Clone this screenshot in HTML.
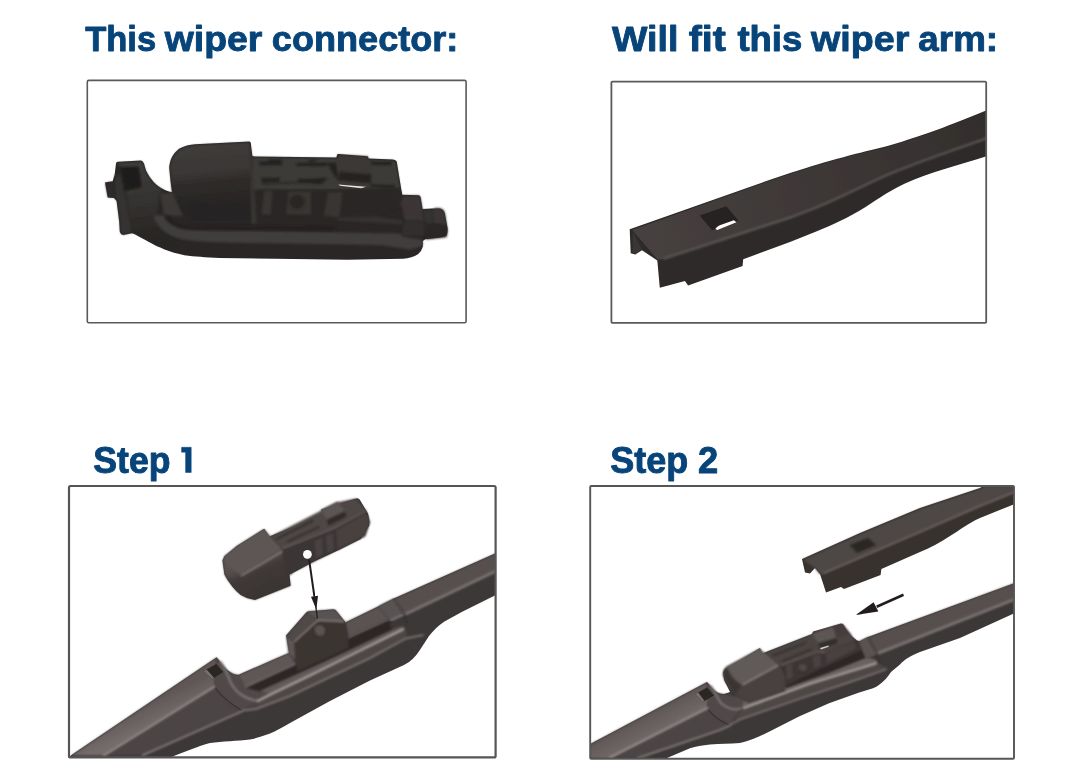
<!DOCTYPE html>
<html>
<head>
<meta charset="utf-8">
<style>
html,body{margin:0;padding:0;background:#fff;}
body{width:1080px;height:783px;position:relative;overflow:hidden;font-family:"Liberation Sans",sans-serif;}
.h{position:absolute;margin:0;font-weight:bold;color:#0c3f75;white-space:nowrap;line-height:1;transform-origin:0 0;-webkit-text-stroke:0.9px #0c3f75;}
svg{position:absolute;left:0;top:0;}
</style>
</head>
<body>
<svg width="1080" height="783" viewBox="0 0 1080 783">
<g id="txt" opacity="0.999" font-family="Liberation Sans, sans-serif" font-weight="bold" fill="#07447a" stroke="#07447a" stroke-width="0.9" stroke-linejoin="round">
<text transform="translate(85.20,51.1) scale(0.9694,1)" font-size="35.61">This</text>
<text transform="translate(164.80,51.1) scale(1.0495,1)" font-size="35.61">wiper</text>
<text transform="translate(271.79,51.1) scale(1.0144,1)" font-size="35.61">connector:</text>
<text transform="translate(612.00,51.3) scale(1.0541,1)" font-size="35.61">Will</text>
<text transform="translate(688.70,51.3) scale(1.1059,1)" font-size="35.61">fit</text>
<text transform="translate(737.40,51.3) scale(1.0258,1)" font-size="35.61">this</text>
<text transform="translate(811.00,51.3) scale(1.0570,1)" font-size="35.61">wiper</text>
<text transform="translate(918.37,51.3) scale(1.0329,1)" font-size="35.61">arm:</text>
<text transform="translate(93.32,473.0) scale(0.9805,1)" font-size="36.31">Step</text>
<path d="M181.6 447.3H191.2V472.5H185.6V452.2H181.6Z" stroke-width="0.5"/>
<text transform="translate(610.31,473.0) scale(0.9909,1)" font-size="36.31">Step</text>
<text transform="translate(698.00,473.0) scale(1.0000,1)" font-size="36.31">2</text>
</g>
<!-- PANELS -->
<!-- PANEL1 -->
<defs>
<clipPath id="c1"><rect x="87.3" y="80.4" width="378.8" height="242.4"/></clipPath>
<filter id="b3" x="-10%" y="-10%" width="120%" height="120%"><feGaussianBlur stdDeviation="0.8"/></filter>
<filter id="b4" x="-20%" y="-20%" width="140%" height="140%"><feGaussianBlur stdDeviation="1.8"/></filter>
<linearGradient id="g1cap" gradientUnits="userSpaceOnUse" x1="200" y1="142" x2="206" y2="200"><stop offset="0" stop-color="#413d3c"/><stop offset="0.5" stop-color="#3b3736"/><stop offset="0.7" stop-color="#2f2c2b"/><stop offset="1" stop-color="#2a2726"/></linearGradient>
<linearGradient id="g1hook" gradientUnits="userSpaceOnUse" x1="140" y1="165" x2="150" y2="240"><stop offset="0" stop-color="#3f3b3a"/><stop offset="0.5" stop-color="#343130"/><stop offset="1" stop-color="#282524"/></linearGradient>
</defs>
<g clip-path="url(#c1)">
<!-- silhouette -->
<path id="p1sil" filter="url(#b1)" fill="#292625" d="M105 182.6 L112.6 181.3 L114.6 175 L116 163.2 Q116.2 161.9 118 161.8 L141 160.4 Q143 160.6 144.2 164 C145.2 168 145.8 170 146.8 172 C148.5 175.5 151 179 153.6 181.9 C156.5 185 160 187.6 163.9 189.6 C166 190.7 169 191.8 172 192.3 L170.6 181.8 L169.4 170 L169.2 167.5 C170 160 172 154.5 179 148.8 C184 145.8 190 144.6 195.1 144.2 L249.4 141.5 Q250.5 141.6 250.8 143 L252.3 155.9 L255 156.6 L336.4 157.6 L337.2 154.4 Q337.5 153.8 338.5 153.9 L367.4 156.2 Q368.3 156.4 368.4 158.5 L393 159.4 Q396 159.8 396.7 161.5 L402.2 194.8 L418.6 195.2 Q420.3 195.5 420.7 197.6 L422.6 209.3 L432.8 208.6 L440.2 208.6 Q443.5 209.5 444.8 213.3 L447.6 228.1 Q447.9 232 446.7 235.6 Q445 237 440.2 237.5 L425.4 239.3 L422.8 241.1 L422.8 246.7 Q421.5 251.5 418 254.3 Q412 258 403.1 258.8 L347.6 259.7 L275 258.8 L220.1 257.9 C205 257.2 195 256.6 184.4 255.2 C178 253.9 170 251.6 163.9 249.2 C158.5 247 156 245.8 153.6 244.6 C149 242 146 240.2 142.1 238.2 C138 236 135 234 131.9 233.2 L123 235 Q120.5 234.6 119.8 231.8 L119.2 221.5 L116.6 201.1 L114 197.9 L107.7 197.4 Z"/>
<!-- hook body shading -->
<path filter="url(#b3)" fill="url(#g1hook)" d="M117 163 L141 161.4 Q142.6 161.8 143.4 164.6 C144.6 169 146 173 149 177.5 C153 183 158 187.5 164 190.5 L160 193.5 L157 215 C160 224 166 229 176 232 L178 250 C165 247 152 241 142 236 C137 233.5 134 232.5 131.5 232 L125.6 190.4 L141.5 187 L138.4 166.6 L120.4 167.3 Z"/>
<!-- hook window -->
<path filter="url(#b3)" fill="#1f1c1b" d="M121.2 167.6 L138 166.9 L141.2 186.8 L125.2 190 Z"/>
<!-- front pillar -->
<path filter="url(#b3)" fill="#353130" d="M114.8 175 L120.6 174.4 L123.4 190.4 L126 198 L131.8 232.6 L123.4 234.4 Q121 234 120.6 231.6 L120 221.5 L117.4 201 L115 197.6 Z"/>
<path filter="url(#b3)" fill="#2e2a29" d="M105.6 183 L112.4 181.9 L114.2 197.2 L108 196.9 Z"/>
<!-- cap -->
<path filter="url(#b3)" fill="url(#g1cap)" d="M170.2 168 C171 160.5 173 155.3 179.6 149.8 C184 147 190 145.6 195.2 145.2 L249 142.6 L251.4 156.5 L254 218 L196 219 L176 200 L172 190 Z"/>
<path filter="url(#b4)" fill="#242120" opacity="0.55" d="M180 203 L254 200 L255 221 L192 221 Z"/>
<path filter="url(#b3)" fill="#383433" d="M249.4 142.8 L251.6 156.4 L257.6 184 L257.2 224 L251.4 224 L250.6 190 Z"/>
<!-- top deck of body -->
<path filter="url(#b3)" fill="#3e3a39" d="M252.6 157.2 L336.5 158.6 L368 159.6 L393 160.4 Q395.5 160.8 396 162.4 L400 188.6 L346 189.6 L258 190.2 L254 189.4 Z"/>
<!-- grooves -->
<g filter="url(#b3)" fill="#242120">
<path d="M258.4 161.8 L282 160.4 L282 165.2 L260 165.6 Z"/>
<path d="M269 159.6 L282 159.4 L282 161 L269 161.2 Z"/>
<path d="M295.4 163.2 L326.9 162.4 L326.9 166 L297 166.2 Z"/>
<path d="M308 159.8 L316 160 L316 162 L308 161.8 Z"/>
<path d="M260.7 178.2 L279.6 177.5 L279.6 181.4 L262.3 182.6 Z"/>
<path d="M297.7 178.9 L328.4 178.1 L321 184 L299.3 182.7 Z"/>
<path d="M262 183.4 L320 180.4 L320.4 182 L262.4 184.6 Z"/>
<path d="M371 161.7 L391.4 161.7 L391.4 165.3 L371 164.7 Z"/>
<path d="M371.5 184.3 L394.5 185.1 L395.3 188.3 L369.3 186.9 Z"/>
<path d="M327 163 L336 162.6 L338.6 180.6 L334 175 Z"/>
</g>
<!-- raised block -->
<path filter="url(#b3)" fill="#3b3736" d="M337.4 154.8 L367.8 156.3 L371.6 174 L339.6 171.6 Z"/>
<path filter="url(#b3)" fill="#272423" d="M339.4 171.8 L371.6 174.4 L370.8 183.6 L338 180.6 Z"/>
<path filter="url(#b1)" fill="#e8e6e4" d="M338.4 184.5 L344 185 L366 186.8 L361.4 188.2 L340 185.8 Z"/>
<!-- front face -->
<path filter="url(#b3)" fill="#2b2827" d="M254 190 L346 189.8 L400 189 L401.8 195.2 L400 206.5 L375.6 216 L337.8 217 L334 227.5 L258 228 Z"/>
<!-- ribs -->
<g filter="url(#b3)" fill="#383433">
<path d="M264 190.8 L272.6 190.8 L271 214.4 L261.6 214.4 Z"/>
<path d="M288.4 191.6 L311.2 191.6 L311.2 214.4 L286 214.4 Z"/>
<path d="M327.8 192.2 L342.6 192.2 L339.6 217.2 L323.8 215.8 Z"/>
</g>
<circle filter="url(#b3)" cx="297" cy="202.6" r="8" fill="#2b2827"/>
<path filter="url(#b3)" fill="none" stroke="#3d3938" stroke-width="1.6" d="M289.4 205 C291.5 212 302.5 212 304.8 205"/>
<!-- ledge -->
<path filter="url(#b3)" fill="#353130" d="M337.4 217.4 L375.6 216.4 L402.8 220.6 L404.6 224.6 L338 220.6 Z"/>
<!-- step block -->
<path filter="url(#b3)" fill="#3a3635" d="M402.6 195.8 L418.6 195.6 Q420 196 420.4 197.8 L424.4 221.4 L404.7 220.8 L402 206 L375.8 216.2 L400 206.5 Z"/>
<path filter="url(#b3)" fill="#322e2d" d="M404.8 221.2 L424.4 221.8 L425 228.4 L422.8 236.4 L403 236.4 L402 232.4 Z"/>
<!-- tab -->
<path filter="url(#b3)" fill="#343030" d="M422.6 209.6 L432.4 209.6 L434.2 223.6 L425.6 224.2 Z"/>
<path filter="url(#b3)" fill="#3a3635" d="M432.4 209.8 L436.4 207.8 L442 208.8 Q444.4 210.4 445 213.4 L446.8 225.4 L434.2 223.6 Z"/>
<path filter="url(#b3)" fill="#292625" d="M425.6 224.4 L446.8 225.8 L447.6 230.4 L446.6 237.2 L426 239.6 Z"/>
<!-- rail -->
<path filter="url(#b3)" fill="#3a3736" d="M160 193.4 L172.6 192.3 L183 216.2 L164 215.2 Z"/>
<path filter="url(#b3)" fill="#413d3c" d="M155.4 215.6 L164 215.2 C166 221 172 226 182 228.6 C200 231.4 230 231 258 231 L380 233.2 L400.6 233.4 L403 236.8 L422.4 239.8 L422.6 246 L410 249.4 L380 245 L258 243 C230 242.8 200 242.4 182 239.2 C166 235.6 156 226 153.6 216 Z"/>
<path filter="url(#b4)" fill="none" stroke="#211e1d" stroke-width="3" d="M166 216 C170 222 176 226 186 227.6 L334 228.6"/>
</g>
<!-- PANEL3 -->
<defs>
<clipPath id="c3"><rect x="69" y="486" width="426.6" height="271.4"/></clipPath>
<linearGradient id="g3cap" gradientUnits="userSpaceOnUse" x1="250" y1="535" x2="275" y2="590"><stop offset="0" stop-color="#5f5857"/><stop offset="0.42" stop-color="#565050"/><stop offset="0.6" stop-color="#403a39"/><stop offset="1" stop-color="#3a3433"/></linearGradient>
<linearGradient id="g3top" gradientUnits="userSpaceOnUse" x1="150" y1="700" x2="160" y2="722"><stop offset="0" stop-color="#5e5655"/><stop offset="1" stop-color="#746c6b"/></linearGradient>
</defs>
<g clip-path="url(#c3)">
<!-- blade silhouette -->
<path filter="url(#b1)" fill="#3e3837" d="M69 757.4 L71 755.3 L216.6 657.2 C220 661 223 666 226.8 669.5 C231 673 235 675 238.5 674.8 L277 658 L289 653 L286 635.6 L306.4 612.3 Q307.4 611.4 309 611.2 L333.5 609.2 Q335.5 609.2 336.5 611 L345 621.6 L345.4 622.6 L378.5 606.2 L393.7 598.5 L494.9 553.5 L497 553 L497 595 L494.9 595.4 L462.2 611.8 L444 621.8 C438 626 433 631 429 636 L419.4 650.7 C415 657 411 661.5 404 664.9 L370 680.4 L330 701 L290 723 C282 727.5 276 731 270 733.6 C262 736.5 256 738.6 250 739.4 C238 741 222 741 210 743 C198 746 185 752 173.2 756.3 L171 757.6 L69 757.6 Z"/>
<!-- end cap top face -->
<path filter="url(#b3)" fill="url(#g3top)" d="M71.5 755.6 L216.4 657.8 L215.6 672 L214.6 686.4 L103.8 755.6 Z"/>
<!-- end cap front face -->
<path filter="url(#b3)" fill="#4c4544" d="M103.8 755.6 L214.6 686.4 L229.5 703.6 L242.5 710.6 L142.6 755.6 Z"/>
<!-- shoulder -->
<path filter="url(#b3)" fill="#514a49" d="M216.6 657.6 C220 661.5 223 666.2 226.8 669.8 C231 673.2 235 675.2 238.5 675 L245 687 L260 691 L270 694 L256 704 L242.5 710.6 L229.5 703.6 L214.6 686.4 Z"/>
<path filter="url(#b3)" fill="none" stroke="#7d7675" stroke-width="2.2" d="M220 661.5 C226 669 228 677 231 683 C236 693 246 699 258 701"/>
<path filter="url(#b1)" fill="none" stroke="#2e2928" stroke-width="0.9" d="M215 687.4 C219 694 228 702 242.5 711"/>
<!-- slot -->
<path filter="url(#b1)" fill="#2a2524" d="M203.6 671 L216.3 664 L223.2 672 L212.2 679 Z"/>
<path filter="url(#b1)" fill="#77706f" d="M203.6 671 L206.6 669.4 L213.8 677.6 L212.2 679 Z"/>
<!-- back rail top (left of mount) -->
<path filter="url(#b3)" fill="#5f5756" d="M238.5 675.2 L288.5 653 L296 664 L245 687 Z"/>
<!-- dark channel -->
<path filter="url(#b3)" fill="#2d2827" d="M246 687.4 L296 664.4 L348 638 L389 620 L392 630 L350 650 L310 668.4 L260 691 Z"/>
<!-- spoiler top face -->
<path filter="url(#b3)" fill="#625a59" d="M260 691 L310 668.4 L350 650 L392 630 L401 626.6 Q404.5 627 405 629.5 L350 655.6 L310 675.4 L270 694.6 Z"/>
<!-- spoiler front -->
<path filter="url(#b3)" fill="#4d4645" d="M270 694.6 L310 675.4 L350 655.6 L405 629.5 Q407 632 406.4 638 L370 658 L330 677 L290 696 L256 709 L243 710.5 L256 704 Z"/>
<!-- highlight lines -->
<g filter="url(#b3)" fill="none" stroke-linecap="round">
<path stroke="#9c9492" stroke-width="2" d="M103.8 755.3 L214.4 686.6"/>
<path stroke="#8a8280" stroke-width="1.6" d="M142.6 755.3 L242.7 710.9"/>
<path stroke="#817a79" stroke-width="1.3" d="M245.6 686.8 L295.6 664"/>
<path stroke="#a59e9c" stroke-width="2.4" d="M258 701 L270 694.6 L310 675.3 L350 655.5 L403 629.4"/>
<path stroke="#857d7b" stroke-width="1.5" d="M243 710.4 L256 709 L290 696 L330 677 L370 658 L406 638.4 L423 635"/>
<path stroke="#7d7675" stroke-width="1.2" d="M348.4 637.4 L388.8 619"/>
</g>
<!-- back rail right of mount -->
<path filter="url(#b3)" fill="#5a5251" d="M345.2 622.6 L378.5 606.4 L389 619 L348.2 637 Z"/>
<!-- arm right: top face -->
<path filter="url(#b3)" fill="#564f4e" d="M378.5 606.4 L393.7 598.9 L494.9 553.9 L497 553.4 L497 570 L404 614.5 L391 620.5 Z"/>
<path filter="url(#b3)" fill="none" stroke="#7d7574" stroke-width="2.8" d="M404.5 614.4 L497 570.6"/>
<!-- collar -->
<path filter="url(#b3)" fill="#5a5352" d="M379 606.2 L393.7 598.7 L404.6 614.4 L391 620.8 Z"/>
<path filter="url(#b3)" fill="none" stroke="#2e2928" stroke-width="1" d="M393.9 599 L404.8 614.6 L407 624"/>
<path filter="url(#b3)" fill="none" stroke="#817a79" stroke-width="1.6" d="M390.5 620.4 L403 614.6"/>
<!-- mount -->
<path filter="url(#b3)" fill="#3a3433" d="M294 642 L318 620 L345 621.6 L348.2 636.8 L348.4 648 L298 671 L295 660 Z"/>
<path filter="url(#b3)" fill="#4f4847" d="M286.2 636 L306.8 612.4 L318 620 L294 642 Z"/>
<path filter="url(#b3)" fill="#5a5352" d="M306.8 612.2 Q308 611.3 309.4 611.2 L333.5 609.5 Q335.5 609.5 336.5 611.2 L344.6 621.4 L318 620 Z"/>
<path filter="url(#b3)" fill="#5d5655" d="M286.2 636 L294 642 L295.2 660 L288.4 653.6 Z"/>
<path filter="url(#b3)" fill="none" stroke="#8a8280" stroke-width="1.5" d="M294 642 L318 620.2 L344 621.4"/>
<circle filter="url(#b3)" cx="319" cy="631" r="6" fill="#4f4847"/>
<circle filter="url(#b3)" cx="319.8" cy="630.6" r="4.6" fill="#5a5352"/>
<path filter="url(#b3)" fill="none" stroke="#2c2726" stroke-width="1.2" d="M313.6 628.6 C312.6 634 316 637.6 320.4 637"/>
<!-- floating connector silhouette -->
<path filter="url(#b1)" fill="#3a3433" d="M222.4 560.4 L224.4 556.3 L236.7 546.1 L264.2 528.8 L269.3 536.6 L322.2 514.5 L321.2 509.4 L346.7 501.3 L356.9 498.2 Q359 498 360 500 L368 513.5 Q369.8 520 369.1 525.7 L360.9 539 L338.5 550.2 L314.1 561.4 L295.7 571.6 L289.6 574.6 L290.6 585.8 L255 600.1 Q247 599 240.7 595 Q236 591 232.6 586.9 Q227 580 224.4 574.6 Z"/>
<!-- cap -->
<path filter="url(#b3)" fill="url(#g3cap)" d="M222.8 560.4 L224.6 556.6 L236.9 546.5 L264 529.4 L269.3 537 L281.5 548 L290.6 585.4 L255 599.6 Q247 598.5 241 594.6 Q236 591 233 586.6 Q227.5 580 224.8 574.4 Z"/>
<path filter="url(#b3)" fill="#5d5655" d="M224.6 556.6 L236.9 546.5 L264 529.4 L281.5 548 L240.7 574.6 Q232 570 226 562 Z"/>
<!-- deck -->
<path filter="url(#b3)" fill="#3b3534" d="M282.4 549.0 L313.1 536.0 L333.0 529.1 L366.0 510.7 L369.8 522.2 L365.2 536.0 L337.6 549.8 L313.1 562.0 L294.7 571.2 L289.3 575.8 L285.5 562.0 Z"/>
<path filter="url(#b3)" fill="#48413f" d="M336.1 530.2 L366.7 513.0 L369.5 522.2 L364.6 536.0 L337.6 549.5 Z"/>
<path filter="url(#b3)" fill="#4a4342" d="M314.6 540.9 L322.3 537.5 L322.6 554.4 L316.1 557.7 Z M325.7 536.0 L333.0 532.9 L333.9 549.8 L327.2 552.8 Z"/>
<path filter="url(#b3)" fill="#4d4645" d="M270.2 536.7 L320.7 510.7 L337.6 502.3 L356.0 498.4 L366.0 510.7 L333.0 529.1 L313.1 536.0 L282.4 549.0 Z"/>
<path filter="url(#b3)" fill="#5c5554" d="M320.7 509.9 L337.6 501.5 L345.3 511.5 L326.9 519.9 Z"/>
<path filter="url(#b3)" fill="#302a29" d="M326.9 519.9 L345.3 511.5 L346.0 516.8 L328.4 525.6 Z"/>
<path filter="url(#b3)" fill="none" stroke="#332d2c" stroke-width="1.8" d="M276.3 539 L313 520.6 M287 542 L319.2 526.8"/>
<path filter="url(#b3)" fill="none" stroke="#6a6261" stroke-width="1.2" d="M282.4 548.6 L313.1 536.4 L333 528.6 L366 511"/>
<path filter="url(#b3)" fill="none" stroke="#857d7c" stroke-width="1.8" d="M241 575.8 L282.4 551.3"/>
<!-- hole & arrow -->
<circle filter="url(#b1)" cx="307.4" cy="554.3" r="4.4" fill="#fff"/>
<path filter="url(#b1)" fill="none" stroke="#231f1e" stroke-width="2" d="M309.1 559.6 L314.6 598"/>
<path filter="url(#b1)" fill="none" stroke="#231f1e" stroke-width="1.3" d="M314.6 598 L317.4 618.4"/>
<path filter="url(#b1)" fill="#231f1e" d="M311 596.8 L318 595.8 L316.3 609.4 Z"/>
</g>
<!-- PANEL4 -->
<defs>
<clipPath id="c4"><rect x="590.2" y="486" width="423.8" height="272.8"/></clipPath>
<linearGradient id="g4cap" gradientUnits="userSpaceOnUse" x1="748" y1="655" x2="768" y2="700"><stop offset="0" stop-color="#625b5a"/><stop offset="0.42" stop-color="#585150"/><stop offset="0.6" stop-color="#423c3b"/><stop offset="1" stop-color="#3a3433"/></linearGradient>
<linearGradient id="g4top" gradientUnits="userSpaceOnUse" x1="650" y1="712" x2="662" y2="735"><stop offset="0" stop-color="#5e5655"/><stop offset="1" stop-color="#746c6b"/></linearGradient>
</defs>
<g clip-path="url(#c4)">
<!-- blade silhouette -->
<path filter="url(#b1)" fill="#3e3837" d="M589 745 L592 743 L707 682 C710 685 712 688 714 690 C717 692.5 720 694 724 694 L730 692 L724 680 L723 672 L726 668.4 L760 648 L762 653.6 L812 634 L813 631.6 L841 623.6 Q843 623.6 844 625.6 L848 633 L857 640.6 L860 641 L868 637 L1016 582.4 L1016 612.4 L960 638 L920 652 C910 656 904 660 900 664.4 L891 672 C887 678 884 681 882 682.4 C878 686 875 687.4 873 688.2 L858.5 692.8 L829 703.2 L799 716.5 L770 731.3 C760 736.5 750 741 740 743 C730 744 720 743.4 710 744.4 C702 745.5 696 746 690 748.2 L667.6 757.8 L666 759 L589 759 Z"/>
<!-- end cap top face -->
<path filter="url(#b3)" fill="url(#g4top)" d="M589 745.6 L592 743.6 L706.8 682.6 L708.6 695 L707.4 708 L610 758.6 L589 758.6 Z"/>
<!-- end cap front face -->
<path filter="url(#b3)" fill="#4c4544" d="M610 758.6 L707.4 708 L716 717.6 L730 725 L720 730 L638 758.6 Z"/>
<!-- shoulder -->
<path filter="url(#b3)" fill="#514a49" d="M707 682.4 C710 685.4 712 688.2 714 690.2 C717 692.7 720 694.2 724 694.2 L740 697 L752 704 L742 708 L736 716 L730 725 L716 717.6 L708 709 Z"/>
<path filter="url(#b3)" fill="none" stroke="#7d7675" stroke-width="2" d="M710 685.4 C716 692 717 699 722 704 C728 709 736 710.4 744 708"/>
<path filter="url(#b1)" fill="none" stroke="#2e2928" stroke-width="0.9" d="M708.4 709.6 C712 715 720 721 730 725.4"/>
<!-- slot -->
<path filter="url(#b1)" fill="#2a2524" d="M695.4 694 L707 687.4 L714 695.6 L702.6 702 Z"/>
<path filter="url(#b1)" fill="#77706f" d="M695.4 694 L698.2 692.4 L704.4 700.8 L702.6 702 Z"/>
<!-- spoiler top face -->
<path filter="url(#b3)" fill="#6a6261" d="M744 700 L784 687 L826 672.6 L866 656.8 L874 659.6 Q877.6 660.6 878 663 L810 684.4 L750 706 L742 708.4 Z"/>
<!-- dark channel -->
<path filter="url(#b3)" fill="#2d2827" d="M784 682 L826 666 L862 650 L866 657.6 L828 673 L786 688 Z"/>
<!-- spoiler front -->
<path filter="url(#b3)" fill="#4d4645" d="M742 708 L750 705.6 L810 683.6 L878 663 Q880 665 888 668.8 L850 682 L800 698.6 L740 719.4 L734 720 Z"/>
<!-- highlight lines -->
<g filter="url(#b3)" fill="none" stroke-linecap="round">
<path stroke="#9c9492" stroke-width="2" d="M610 757.6 L707.4 708"/>
<path stroke="#8a8280" stroke-width="1.6" d="M638 758 L720 730 L730 725.4"/>
<path stroke="#a59e9c" stroke-width="2.4" d="M744 707.8 L750 705.6 L810 683.6 L876 663.4"/>
<path stroke="#857d7b" stroke-width="1.5" d="M730 724.8 L740 719.4 L800 698.6 L850 682 L886 669.4"/>
</g>
<!-- arm right: top face -->
<path filter="url(#b3)" fill="#564f4e" d="M860 641.4 L868 637.4 L1016 582.8 L1016 598.6 L877 653.6 L866 658 Z"/>
<path filter="url(#b3)" fill="none" stroke="#7d7574" stroke-width="2.8" d="M877 653.6 L1016 598.8"/>
<!-- collar -->
<path filter="url(#b3)" fill="#5a5352" d="M859 641.6 L868 637.4 L877 653.8 L866.4 658.6 Z"/>
<path filter="url(#b3)" fill="none" stroke="#2e2928" stroke-width="1" d="M868.2 637.6 L877.2 654 L879 662"/>
<!-- connector body front -->
<path filter="url(#b3)" fill="#3c3635" d="M776 664 L818 650 L850 639.4 L855 640 Q858.4 642 857.6 645.8 Q857 649.6 855 651.8 L826.7 665.2 L786 686 Z"/>
<path filter="url(#b3)" fill="#48413f" d="M825.8 651.8 L853.4 641.8 Q856.4 643.2 855 649.6 L826.8 663.4 Z"/>
<!-- ribs -->
<path filter="url(#b3)" fill="#4a4342" d="M786 665.4 L792 663.4 L792.6 677 L787 679.6 Z M812.6 656.4 L820 654 L821 665 L814 668.4 Z"/>
<!-- deck -->
<path filter="url(#b3)" fill="#4b4443" d="M762.6 654 L812 634.6 L842 624.6 L851.7 635.4 L855 640.4 L825 652.4 L818 651.6 L780 665.4 Z"/>
<path filter="url(#b3)" fill="none" stroke="#332d2c" stroke-width="1.6" d="M772 656 L806 642.6 M782 661.4 L812 649"/>
<path filter="url(#b3)" fill="none" stroke="#6a6261" stroke-width="1.2" d="M780 665.6 L818 651.8 L825 652.6"/>
<!-- raised block -->
<path filter="url(#b3)" fill="#5d5655" d="M812.6 633.8 L833.3 626.6 L836.7 638.2 L818.4 643.4 Z"/>
<path filter="url(#b3)" fill="#332d2c" d="M818.4 643.4 L836.7 638.2 L837.4 643.4 L819.6 648.6 Z"/>
<path filter="url(#b3)" fill="#443e3d" d="M833.3 626.6 L842.6 624.2 L851 635 L837 638 Z"/>
<path filter="url(#b1)" fill="#cfcac8" d="M820 648 L828.3 645.4 L828.8 646.8 L821 649.4 Z"/>
<circle filter="url(#b3)" cx="802.5" cy="668.3" r="4.3" fill="#4f4847"/>
<path filter="url(#b3)" fill="none" stroke="#2c2726" stroke-width="1.2" d="M799 668.6 C799.6 672.6 803.6 674 806.6 671.4"/>
<!-- cap -->
<path filter="url(#b3)" fill="url(#g4cap)" d="M723.2 675 L724 670 L726.7 666.8 L760 648.6 L761.8 654 L778.3 665 L785 676.7 L784.6 690.4 L748.3 702.6 L735 693.4 L726 682 Z"/>
<path filter="url(#b3)" fill="#48413f" d="M741.7 685.2 L778.3 665.2 L785 676.8 L784.6 690.4 L748.3 702.6 L735 693.4 Z"/>
<path filter="url(#b3)" fill="#615a59" d="M726.7 666.8 L760 649 L778.3 665 L741.7 685 Q733 680 727.6 672 Z"/>
<path filter="url(#b3)" fill="none" stroke="#857d7c" stroke-width="1.8" d="M742 685 L778 665.4"/>
<path filter="url(#b3)" fill="#3a3433" d="M723.2 675 L724 670 L726.7 667 Q732 680 741.7 685.2 L735 693.4 L726 682 Z"/>
<!-- floating arm silhouette -->
<path filter="url(#b1)" fill="#37312f" d="M802 559 L860 533 L920 508 L980 488 L985 485 L1016 485 L1016 503.4 L980 518 C968 523.4 960 530 950 536 C940 542.6 930 548 920 552 L881.4 569 L880.6 575 L844 589 L841 587 L826 592.4 L820 574 L815 568 L810 573.4 L805 572.4 Z"/>
<path filter="url(#b3)" fill="#4d4645" d="M803.6 559.6 L860 534 L920 509 L980 489 L986 486 L1016 486 L1016 491.6 L980 506 L920 532 L822 574 L819.6 574 L815 568 L806 562 Z"/>
<path filter="url(#b3)" fill="none" stroke="#6a6362" stroke-width="2" d="M823 573.4 L920 531.8 L980 505.8 L1016 491.4"/>
<path filter="url(#b3)" fill="#2a2524" d="M850 545 L868 538 L876 545 L857 553 Z"/>
<!-- arrow -->
<path filter="url(#b1)" fill="#231f1e" d="M903 593.6 L904 596 L877.2 608 L876.2 605.6 Z"/>
<path filter="url(#b1)" fill="#231f1e" d="M873.6 602.2 L878.4 611.4 L855.6 615 Z"/>
</g>
<!-- PANEL2 -->
<defs>
<clipPath id="c2"><rect x="611.4" y="81.6" width="374.6" height="241.2"/></clipPath>
<filter id="b1" x="-5%" y="-5%" width="110%" height="110%"><feGaussianBlur stdDeviation="0.55"/></filter>
<filter id="b2" x="-10%" y="-10%" width="120%" height="120%"><feGaussianBlur stdDeviation="1.2"/></filter>
<linearGradient id="g2top" gradientUnits="userSpaceOnUse" x1="630" y1="240" x2="985" y2="125"><stop offset="0" stop-color="#474140"/><stop offset="0.45" stop-color="#3f3938"/><stop offset="1" stop-color="#332e2d"/></linearGradient>
</defs>
<g clip-path="url(#c2)">
<g filter="url(#b1)">
<!-- silhouette / front face -->
<path fill="#2e2a29" d="M629.7 229.3 L769.3 180 L790 173.1 C830 160 860 152.5 886.6 146.2 C930 134 960 121 990 109 L990 155 C960 165 930 172 905 183.4 C885 193 875 201 859 211 C842 221 825 228 810 234.1 L790 242 L743.2 259.3 L742.6 266 L688.1 285.6 L684.9 280.9 L659.8 287.8 L657.3 260.5 L642 250.2 L635.3 254.6 L630.7 253.3 Z"/>
<!-- top face -->
<path fill="url(#g2top)" d="M632.3 230 L769.3 181 L790 174.1 C830 161 860 153.5 886.6 147.2 C930 135 960 122 990 110 L990 137.5 C950 152 915 163 882 177.7 C855 190 835 201 810 210.5 L790 218 L661 259.4 L657.6 259.6 Z"/>
</g>
<!-- bend highlight -->
<path filter="url(#b2)" fill="none" stroke="#5a5453" stroke-width="2.2" stroke-linecap="round" d="M664 258.6 L790 217.6 L810 210 C835 200.5 855 189.5 882 177.2 C915 162.5 950 151.5 990 137"/>
<!-- left flange inner -->
<path filter="url(#b1)" fill="#3a3534" d="M632.8 231.5 L641.8 249.6 L635.4 253.4 L632.4 252.6 Z"/>
<!-- hole -->
<path filter="url(#b1)" fill="#262221" d="M699.7 215.4 L726.3 206.2 L738.5 220.5 L712 230.2 Z"/>
<path filter="url(#b1)" fill="#fff" d="M715.4 228.9 C716.5 227 718 226 719.8 225.2 L733.9 220.2 L736.4 222.2 L717.3 230 Z"/>
</g>

<g id="frames" fill="none" stroke="#5a5a5a">
<rect x="87.3" y="80.4" width="378.8" height="242.4" rx="1.5" stroke-width="1.6"/>
<rect x="611.4" y="81.6" width="374.8" height="241.2" rx="1" stroke-width="1.8"/>
<rect x="69" y="486" width="426.6" height="271.4" rx="1.5" stroke-width="2.2" stroke="#555"/>
<rect x="590.2" y="486" width="423.8" height="272.8" rx="1" stroke-width="1.9" stroke="#555"/>
</g>
</svg>
</body>
</html>
